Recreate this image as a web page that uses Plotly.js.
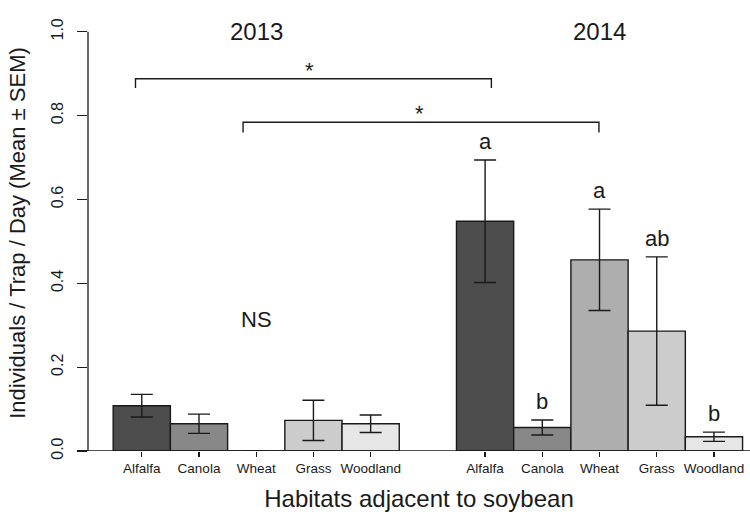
<!DOCTYPE html>
<html>
<head>
<meta charset="utf-8">
<script src="https://cdn.plot.ly/plotly-3.0.1.min.js"></script>
<style>html,body{margin:0;padding:0;background:#fff;}#chart{width:750px;height:524px;}</style>
</head>
<body>
<div id="chart"></div>
<script>
// ---- data ----
const habitats = ['Alfalfa', 'Canola', 'Wheat', 'Grass', 'Woodland'];
const years = ['2013', '2014'];
const mean2013 = [0.108, 0.065, 0.0, 0.073, 0.065];
const sem2013 = [0.027, 0.023, null, 0.048, 0.021];
const mean2014 = [0.548, 0.056, 0.456, 0.286, 0.034];
const sem2014 = [0.146, 0.018, 0.121, 0.177, 0.011];
const letters2014 = ['a', 'b', 'a', 'ab', 'b'];
const barColors = ['#4D4D4D', '#888888', '#AEAEAE', '#CCCCCC', '#E6E6E6'];

// bar positions (R barplot, beside=TRUE, space=c(0,1))
const pos2013 = habitats.map((h, i) => 1.5 + i);
const pos2014 = habitats.map((h, i) => 7.5 + i);

const FONT = 'Liberation Sans, Arial, sans-serif';
const INK = '#1a1a1a';

function barTrace(x, y, err, name) {
  return {
    type: 'bar', x: x, y: y, name: name, width: 1,
    marker: {color: barColors, line: {color: INK, width: 1.4}},
    error_y: {type: 'data', array: err, visible: true, color: INK, thickness: 1.4, width: 11},
    showlegend: false, hoverinfo: 'x+y'
  };
}

const data = [
  barTrace(pos2013, mean2013, sem2013, years[0]),
  barTrace(pos2014, mean2014, sem2014, years[1])
];

const annotations = [];
letters2014.forEach((l, i) => {
  annotations.push({x: pos2014[i], y: mean2014[i] + sem2014[i], xref: 'x', yref: 'y',
    text: l, showarrow: false, yanchor: 'bottom', yshift: 4,
    font: {family: FONT, size: 22, color: INK}});
});
annotations.push({x: 3.5, y: 1.0, xref: 'x', yref: 'y', text: years[0], showarrow: false,
  yanchor: 'middle', font: {family: FONT, size: 24, color: INK}});
annotations.push({x: 9.5, y: 1.0, xref: 'x', yref: 'y', text: years[1], showarrow: false,
  yanchor: 'middle', font: {family: FONT, size: 24, color: INK}});
annotations.push({x: 3.5, y: 0.313, xref: 'x', yref: 'y', text: 'NS', showarrow: false,
  yanchor: 'middle', font: {family: FONT, size: 22, color: INK}});
annotations.push({x: 4.43, y: 0.888, xref: 'x', yref: 'y', text: '*', showarrow: false,
  yanchor: 'bottom', yshift: -6, font: {family: FONT, size: 22, color: INK}});
annotations.push({x: 6.35, y: 0.784, xref: 'x', yref: 'y', text: '*', showarrow: false,
  yanchor: 'bottom', yshift: -6, font: {family: FONT, size: 22, color: INK}});

function bracket(x0, x1, yTop, yLeg) {
  return {type: 'path', xref: 'x', yref: 'y',
    path: `M ${x0},${yLeg} L ${x0},${yTop} L ${x1},${yTop} L ${x1},${yLeg}`,
    line: {color: INK, width: 1.4}};
}

const shapes = [
  bracket(1.39, 7.61, 0.888, 0.866),
  bracket(3.27, 9.49, 0.784, 0.760),
  // x axis baseline (extends slightly left of the y axis)
  {type: 'line', xref: 'paper', yref: 'y', x0: -0.0166, x1: 1, y0: 0, y1: 0,
    line: {color: INK, width: 1.3}},
  // y axis line from 0 to 1
  {type: 'line', xref: 'paper', yref: 'y', x0: 0, x1: 0, y0: 0, y1: 1,
    line: {color: INK, width: 1.3}}
];

const layout = {
  width: 750, height: 524,
  margin: {l: 88, r: 0, t: 15, b: 73, pad: 0},
  paper_bgcolor: '#ffffff', plot_bgcolor: '#ffffff',
  font: {family: FONT, color: INK},
  barmode: 'overlay',
  xaxis: {
    range: [0.56, 12.13], showgrid: false, zeroline: false, showline: false,
    tickmode: 'array', tickvals: pos2013.concat(pos2014), ticktext: habitats.concat(habitats),
    ticks: 'outside', ticklen: 5, tickwidth: 1.2, tickcolor: INK,
    tickfont: {family: FONT, size: 13.5, color: INK},
    title: {text: 'Habitats adjacent to soybean', font: {family: FONT, size: 24, color: INK}, standoff: 14}
  },
  yaxis: {
    range: [0, 1.04], showgrid: false, zeroline: false, showline: false,
    tickmode: 'array', tickvals: [0, 0.2, 0.4, 0.6, 0.8, 1.0],
    ticktext: ['0.0', '0.2', '0.4', '0.6', '0.8', '1.0'],
    tickangle: -90, ticklabelstandoff: 8,
    ticks: 'outside', ticklen: 10, tickwidth: 1.2, tickcolor: INK,
    tickfont: {family: FONT, size: 16, color: INK},
    title: {text: 'Individuals / Trap / Day (Mean ± SEM)', font: {family: FONT, size: 22, color: INK}, standoff: 16}
  },
  annotations: annotations,
  shapes: shapes
};

Plotly.newPlot('chart', data, layout, {displayModeBar: false, staticPlot: true});
</script>
</body>
</html>
